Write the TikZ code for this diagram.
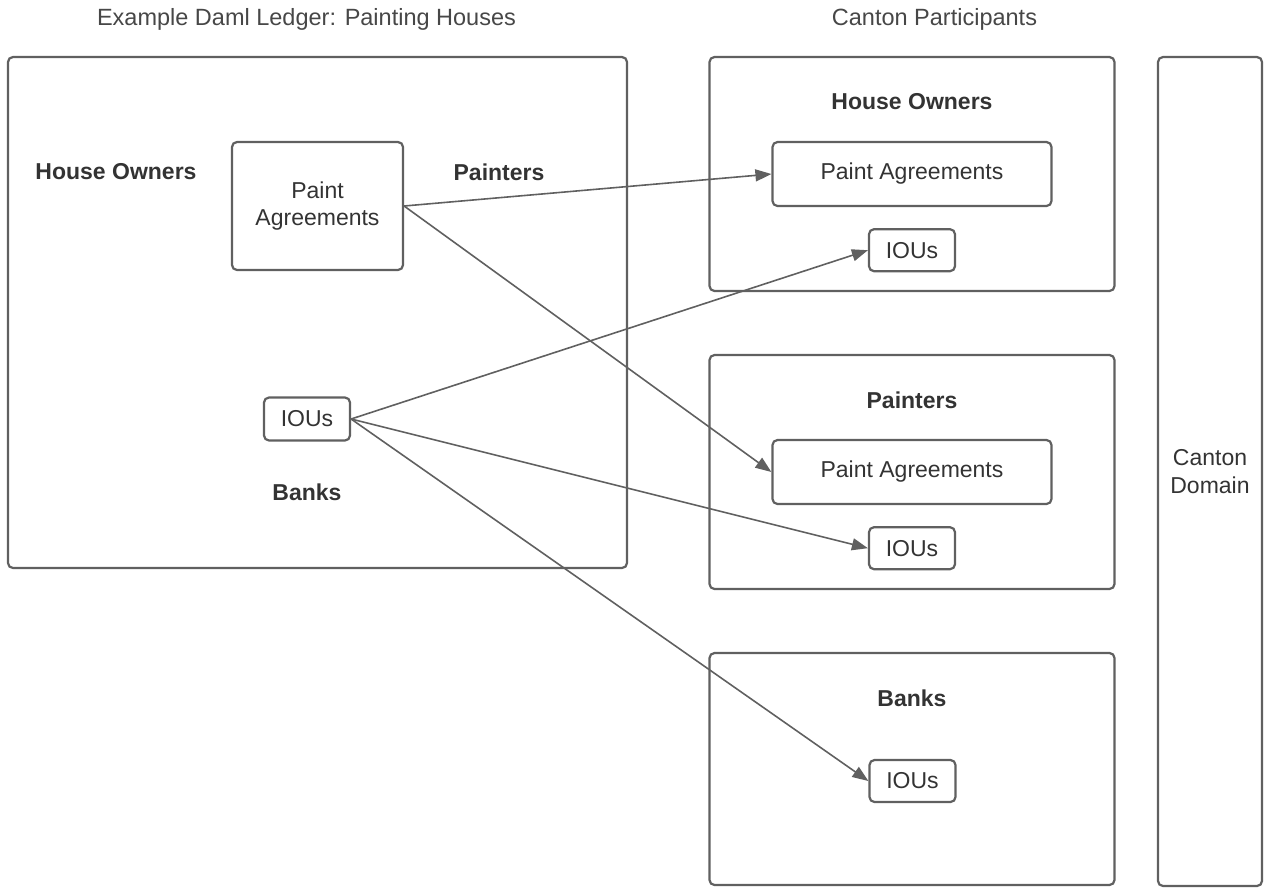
\documentclass[tikz,border=0pt]{standalone}
\usepackage{fontspec}
\setmainfont{Liberation Sans}
\usetikzlibrary{arrows.meta, positioning}
\definecolor{linegray}{HTML}{606060}
\definecolor{textgray}{HTML}{333333}

\begin{document}
\begin{tikzpicture}[
    x=1pt, y=-1pt,
    font=\fontsize{23}{27.6}\selectfont,
    text=textgray,
    node distance=21pt,
    frame/.style={rectangle, draw=linegray, line width=2.2pt, rounded corners=5pt, inner sep=0pt},
    store/.style={frame, align=center},
    party/.style={font=\fontsize{23}{27.6}\selectfont\bfseries},
    heading/.style={text=black!72, font=\fontsize{23.5}{28}\selectfont},
    arrow/.style={draw=linegray, line width=1.6pt, -{Triangle[length=16pt, width=12pt]}}
]
    \useasboundingbox (0,0) rectangle (1264,887);

    % ledger view
    \node[heading] (ledgertitle) at (306.5,19) {Example Daml Ledger: Painting Houses};
    \node[frame, minimum width=619pt, minimum height=511pt] (ledger) at (317.5,312.5) {};
    \node[party] (ownersL) at (116,172) {House Owners};
    \node[party] (paintersL) at (499,172) {Painters};
    \node[party] (banksL) at (307,492) {Banks};
    \node[store, minimum width=171pt, minimum height=128pt] (agreeL) at (317.5,206) {Paint\\Agreements};
    \node[store, minimum width=86pt, minimum height=43pt] (iouL) at (307,419) {IOUs};

    % participants
    \node[heading] (partstitle) at (934.5,19) {Canton Participants};

    \node[frame, minimum width=405pt, minimum height=234pt] (ownersbox) at (912,174) {};
    \node[party] (ownersR) at (912,102) {House Owners};
    \node[store, minimum width=279pt, minimum height=64pt] (agreeA) at (912,174) {Paint Agreements};
    \node[store, minimum width=86pt, minimum height=42pt, below=21pt of agreeA] (iouA) {IOUs};

    \node[frame, minimum width=405pt, minimum height=234pt] (paintersbox) at (912,472) {};
    \node[party] (paintersR) at (912,400) {Painters};
    \node[store, minimum width=279pt, minimum height=64pt] (agreeB) at (912,472) {Paint Agreements};
    \node[store, minimum width=86pt, minimum height=42pt, below=21pt of agreeB] (iouB) {IOUs};

    \node[frame, minimum width=405pt, minimum height=232pt] (banksbox) at (912,769) {};
    \node[party] (banksR) at (912,698) {Banks};
    \node[store, minimum width=86pt, minimum height=42pt] (iouC) at (912.5,781) {IOUs};

    % domain
    \node[store, minimum width=104pt, minimum height=829pt] (domain) at (1210,471.5) {Canton\\Domain};

    \draw[arrow] (agreeL.east) -- (agreeA.west);
    \draw[arrow] (agreeL.east) -- (agreeB.west);
    \draw[arrow] (iouL.east) -- (iouA.west);
    \draw[arrow] (iouL.east) -- (iouB.west);
    \draw[arrow] (iouL.east) -- (iouC.west);
\end{tikzpicture}
\end{document}
